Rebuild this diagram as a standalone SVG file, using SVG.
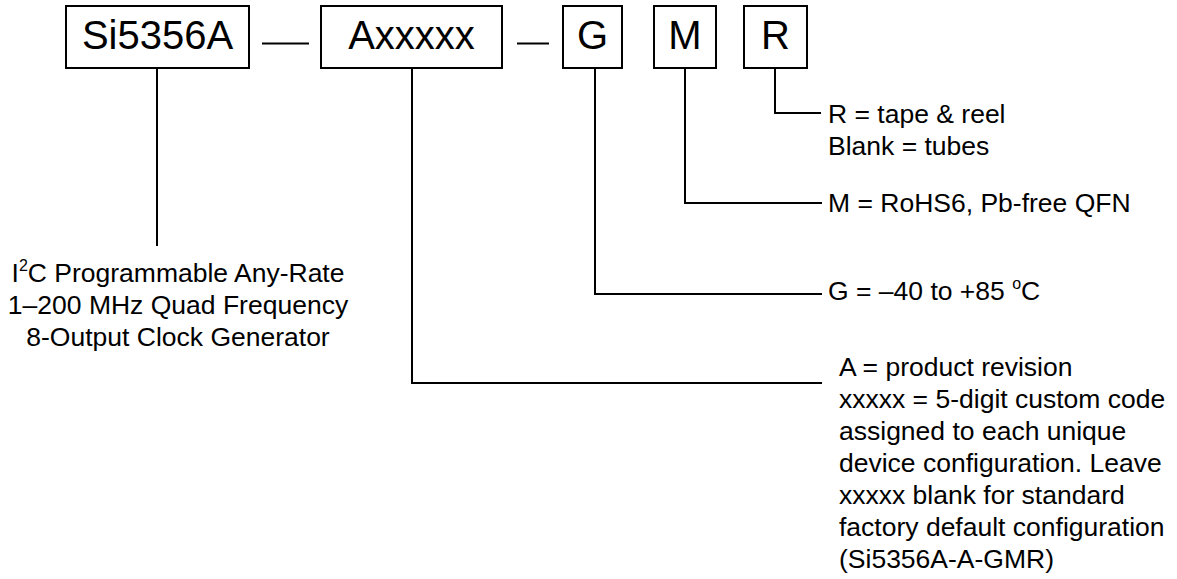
<svg xmlns="http://www.w3.org/2000/svg" width="1177" height="579" viewBox="0 0 1177 579">
<style>
.box{fill:#fff;stroke:#000;stroke-width:2}
.bt{font-family:"Liberation Sans",Arial,sans-serif;font-size:40px;fill:#000;text-anchor:middle}
.t{font-family:"Liberation Sans",Arial,sans-serif;font-size:26.5px;fill:#000}
.ln{fill:none;stroke:#000;stroke-width:2}
</style>
<rect width="1177" height="579" fill="#fff"/>
<g id="node-si5356a"><rect class="box" x="66" y="6" width="183" height="62"/><text class="bt" x="157.5" y="49">Si5356A</text></g>
<g id="node-axxxxx"><rect class="box" x="321" y="6" width="181" height="62"/><text class="bt" x="411.5" y="49">Axxxxx</text></g>
<g id="node-g"><rect class="box" x="563" y="6" width="59" height="62"/><text class="bt" x="592.5" y="49">G</text></g>
<g id="node-m"><rect class="box" x="654" y="6" width="62" height="62"/><text class="bt" x="685" y="49">M</text></g>
<g id="node-r"><rect class="box" x="744" y="6" width="63" height="62"/><text class="bt" x="775.5" y="49">R</text></g>
<g id="connectors">
<line class="ln" x1="262" y1="43.5" x2="309" y2="43.5"/>
<line class="ln" x1="517" y1="43.5" x2="549" y2="43.5"/>
<polyline class="ln" points="157,68 157,246"/>
<polyline class="ln" points="412,68 412,383 822,383"/>
<polyline class="ln" points="595,68 595,294 822,294"/>
<polyline class="ln" points="685,68 685,203 822,203"/>
<polyline class="ln" points="775,68 775,113 821,113"/>
</g>
<g id="label-base">
<text class="t" text-anchor="middle" x="178" y="282">I<tspan font-size="16" dy="-11">2</tspan><tspan dy="11">C Programmable Any-Rate</tspan></text>
<text class="t" text-anchor="middle" x="178" y="314">1–200 MHz Quad Frequency</text>
<text class="t" text-anchor="middle" x="178" y="346">8-Output Clock Generator</text>
</g>
<g id="label-r">
<text class="t" x="828" y="123">R = tape &amp; reel</text>
<text class="t" x="828" y="155">Blank = tubes</text>
</g>
<g id="label-m"><text class="t" x="828" y="212">M = RoHS6, Pb-free QFN</text></g>
<g id="label-g"><text class="t" x="828" y="300">G = –40 to +85 <tspan font-size="16" dy="-11">o</tspan><tspan dy="11">C</tspan></text></g>
<g id="label-a">
<text class="t" x="839" y="376">A = product revision</text>
<text class="t" x="839" y="408">xxxxx = 5-digit custom code</text>
<text class="t" x="839" y="440">assigned to each unique</text>
<text class="t" x="839" y="472">device configuration. Leave</text>
<text class="t" x="839" y="504">xxxxx blank for standard</text>
<text class="t" x="839" y="536">factory default configuration</text>
<text class="t" x="839" y="568">(Si5356A-A-GMR)</text>
</g>
</svg>
